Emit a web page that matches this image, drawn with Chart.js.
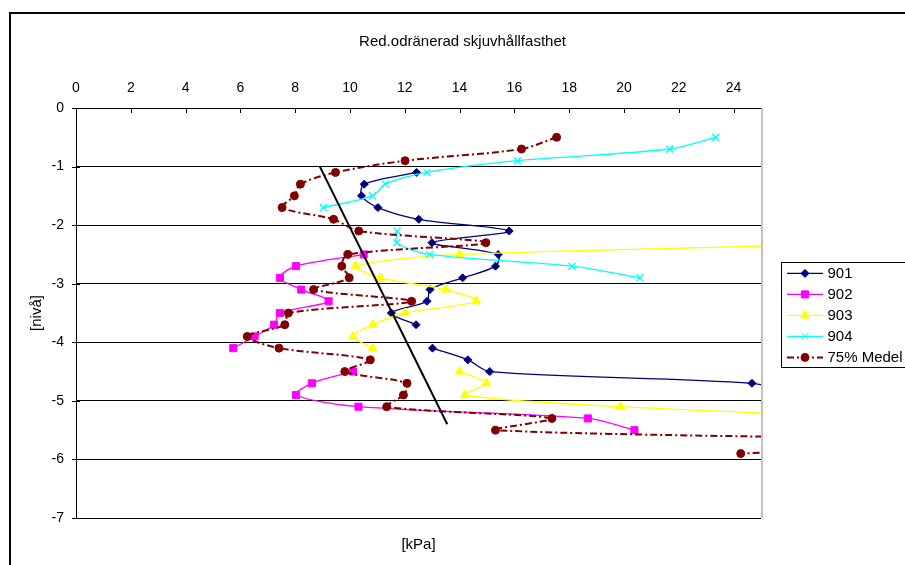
<!DOCTYPE html>
<html>
<head>
<meta charset="utf-8">
<script src="https://cdn.jsdelivr.net/npm/chart.js@4.4.1/dist/chart.umd.min.js"></script>
<style>
  html, body { margin: 0; padding: 0; background: #fff; }
</style>
</head>
<body>
<canvas id="myChart" width="905" height="565"></canvas>
<script>
// nivåer (y) - samma för alla serier, null = saknas
const nivaer = [-0.5, -0.7, -0.9, -1.1, -1.3, -1.5, -1.7, -1.9, -2.1, -2.3, -2.5, -2.7, -2.9, -3.1,
  -3.3, -3.5, -3.7, -3.9, -4.1, -4.3, -4.5, -4.7, -4.9, -5.1, -5.3, -5.5, -5.7, -5.9];

const s901 = [null, null, null, 12.43, 10.52, 10.42, 11.02, 12.51, 15.81, 12.99, 15.41, 15.31, 14.11, 12.92,
  12.81, 11.51, 12.41, null, 13.01, 14.3, 15.1, 24.67, 26.5, null, null, null, null, null];
const s902 = [null, null, null, null, null, null, null, null, null, null, 10.5, 8.03, 7.44, 8.22,
  9.22, 7.44, 7.23, 6.52, 5.74, null, 10.11, 8.61, 8.03, 10.31, 18.68, 20.38, null, null];
const s903 = [null, null, null, null, null, null, null, null, null, 31, 14.0, 10.2, 11.11, 13.5,
  14.61, 12.01, 10.83, 10.11, 10.83, null, 14.0, 14.98, 14.19, 19.87, 30, null, null, null];
const s904 = [23.35, 21.67, 16.11, 12.81, 11.29, 10.82, 9.03, null, 11.72, 11.71, 12.91, 18.1, 20.58, null,
  null, null, null, null, null, null, null, null, null, null, null, null, null, null];
const medel = [17.54, 16.26, 12.01, 9.47, 8.19, 7.97, 7.52, 9.4, 10.32, 14.96, 9.92, 9.7, 9.97, 8.67,
  12.25, 7.75, 7.62, 6.25, 7.41, 10.74, 9.81, 12.08, 11.95, 11.34, 17.37, 15.31, 33, 24.26];

// handritad linje
const trendX = [8.9, 13.55];
const trendY = [-1.0, -5.4];

const xTicks = [0, 2, 4, 6, 8, 10, 12, 14, 16, 18, 20, 22, 24];
const yTicks = [0, -1, -2, -3, -4, -5, -6, -7];

function punkter(serie) {
  return nivaer.map((y, i) => ({ x: serie[i], y: serie[i] == null ? null : y }));
}

Chart.defaults.font.family = "'Liberation Sans', Arial, sans-serif";
Chart.defaults.font.size = 14;
Chart.defaults.color = "#000";

const extras = {
  id: "extras",
  beforeDraw(chart) {
    const ctx = chart.ctx;
    ctx.save();
    ctx.fillStyle = "#fff";
    ctx.fillRect(0, 0, chart.width, chart.height);
    ctx.strokeStyle = "#000";
    ctx.lineWidth = 2;
    ctx.beginPath();
    ctx.moveTo(10, chart.height);
    ctx.lineTo(10, 13);
    ctx.lineTo(chart.width, 13);
    ctx.stroke();
    ctx.restore();
  },
  afterDraw(chart) {
    const ctx = chart.ctx;
    const a = chart.chartArea;
    const xs = chart.scales.x;
    const ys = chart.scales.y;
    ctx.save();
    // högra kanten
    ctx.strokeStyle = "#c0c0c0";
    ctx.lineWidth = 2;
    ctx.beginPath();
    ctx.moveTo(a.right + 1, a.top);
    ctx.lineTo(a.right + 1, a.bottom);
    ctx.stroke();
    // tickmarks
    ctx.strokeStyle = "#000";
    ctx.lineWidth = 1;
    ctx.beginPath();
    xs.ticks.forEach((t) => {
      const px = Math.round(xs.getPixelForValue(t.value)) + 0.5;
      ctx.moveTo(px, a.top);
      ctx.lineTo(px, a.top + 5);
    });
    ys.ticks.forEach((t) => {
      const py = Math.round(ys.getPixelForValue(t.value)) + 0.5;
      ctx.moveTo(a.left - 4, py);
      ctx.lineTo(a.left + 4, py);
    });
    ctx.stroke();

    // legend: ram + linjeprov
    const lg = chart.legend;
    const hb = lg.legendHitBoxes;
    if (hb && hb.length) {
      const c0 = hb[0].top + hb[0].height / 2;
      const last = hb[hb.length - 1];
      const cN = last.top + last.height / 2;
      ctx.strokeStyle = "#000";
      ctx.lineWidth = 1;
      ctx.strokeRect(Math.round(hb[0].left + 14) + 0.5, Math.round(c0 - 11.5) + 0.5, 300, Math.round(cN - c0 + 21));
      hb.forEach((box, i) => {
        const item = lg.legendItems[i];
        const ds = chart.data.datasets[item.datasetIndex];
        const cy = box.top + box.height / 2;
        const x1 = box.left + 20;
        const x2 = box.left + 56;
        ctx.save();
        ctx.strokeStyle = ds.borderColor;
        ctx.lineWidth = ds.borderWidth;
        ctx.setLineDash(ds.borderDash || []);
        ctx.beginPath();
        ctx.moveTo(x1, cy);
        ctx.lineTo(x2, cy);
        ctx.stroke();
        ctx.restore();
        ctx.save();
        ctx.fillStyle = ds.pointBackgroundColor;
        ctx.strokeStyle = ds.pointBorderColor;
        Chart.helpers.drawPoint(ctx, {
          pointStyle: ds.pointStyle,
          radius: ds.pointRadius,
          rotation: 0,
          borderWidth: ds.pointBorderWidth,
        }, (x1 + x2) / 2, cy);
        ctx.restore();
      });
    }
    ctx.restore();
  },
};

const ctx = document.getElementById("myChart");

new Chart(ctx, {
  type: "scatter",
  data: {
    datasets: [
      {
        label: "901",
        data: punkter(s901),
        showLine: true,
        borderColor: "#000080",
        borderWidth: 1.3,
        pointStyle: "rectRot",
        pointRadius: 4,
        pointBackgroundColor: "#000080",
        pointBorderColor: "#000080",
        pointBorderWidth: 1,
        order: 5,
      },
      {
        label: "902",
        data: punkter(s902),
        showLine: true,
        borderColor: "#ff00ff",
        borderWidth: 1.3,
        pointStyle: "rect",
        pointRadius: 5,
        pointBackgroundColor: "#ff00ff",
        pointBorderColor: "#ff00ff",
        pointBorderWidth: 1,
        order: 4,
      },
      {
        label: "903",
        data: punkter(s903),
        showLine: true,
        borderColor: "#ffff00",
        borderWidth: 1.3,
        pointStyle: "triangle",
        pointRadius: 5,
        pointBackgroundColor: "#ffff00",
        pointBorderColor: "#ffff00",
        pointBorderWidth: 1,
        order: 3,
      },
      {
        label: "904",
        data: punkter(s904),
        showLine: true,
        borderColor: "#00ffff",
        borderWidth: 1.3,
        pointStyle: "crossRot",
        pointRadius: 5,
        pointBackgroundColor: "#00ffff",
        pointBorderColor: "#00ffff",
        pointBorderWidth: 1.3,
        order: 2,
      },
      {
        label: "75% Medel",
        data: punkter(medel),
        showLine: true,
        borderColor: "#800000",
        borderWidth: 2,
        borderDash: [7, 3, 2, 3],
        pointStyle: "circle",
        pointRadius: 4,
        pointBackgroundColor: "#800000",
        pointBorderColor: "#800000",
        pointBorderWidth: 1,
        order: 1,
      },
      {
        label: "linje",
        data: trendX.map((x, i) => ({ x: x, y: trendY[i] })),
        showLine: true,
        borderColor: "#000",
        borderWidth: 2,
        pointRadius: 0,
        tension: 0,
        order: 0,
      },
    ],
  },
  options: {
    responsive: false,
    animation: false,
    events: [],
    layout: { padding: { left: 20, right: 0, top: 15, bottom: 8 } },
    elements: {
      line: { tension: 0.3, capBezierPoints: false },
    },
    spanGaps: false,
    plugins: {
      tooltip: { enabled: false },
      title: {
        display: true,
        text: "Red.odränerad skjuvhållfasthet",
        font: { size: 15, weight: "normal" },
        padding: { top: 18, bottom: 10 },
      },
      legend: {
        position: "right",
        fullSize: false,
        maxWidth: 144,
        title: { display: true, text: " ", font: { size: 4 }, padding: 0 },
        labels: {
          font: { size: 15 },
          boxWidth: 53,
          boxHeight: 15,
          padding: 6,
          filter: (item) => item.datasetIndex < 5,
          sort: (a, b) => a.datasetIndex - b.datasetIndex,
          generateLabels: (chart) =>
            Chart.defaults.plugins.legend.labels.generateLabels(chart).map((l) => ({
              ...l,
              fillStyle: "rgba(0,0,0,0)",
              strokeStyle: "rgba(0,0,0,0)",
              lineWidth: 0,
              lineDash: [],
            })),
        },
      },
    },
    scales: {
      x: {
        type: "linear",
        position: "top",
        min: 0,
        max: 25,
        afterFit: (s) => { s.height = 47; },
        afterBuildTicks: (s) => { s.ticks = xTicks.map((v) => ({ value: v })); },
        ticks: { stepSize: 2, includeBounds: false, padding: 11, maxRotation: 0 },
        grid: { display: false, drawTicks: false },
        border: { color: "#000", width: 1 },
      },
      x2: {
        type: "linear",
        position: "bottom",
        min: 0,
        max: 25,
        ticks: { display: false },
        grid: { display: false, drawTicks: false },
        border: { display: false },
        title: { display: true, text: "[kPa]", font: { size: 15 }, padding: { top: 18, bottom: 3 } },
      },
      y: {
        type: "linear",
        min: -7,
        max: 0,
        afterFit: (s) => { s.width = 56; },
        afterBuildTicks: (s) => { s.ticks = yTicks.map((v) => ({ value: v })); },
        ticks: { stepSize: 1, padding: 12 },
        grid: { color: "#000", lineWidth: 1, drawTicks: false },
        border: { color: "#000", width: 1 },
        title: { display: true, text: "[nivå]", font: { size: 15 }, padding: { top: 8, bottom: 0 } },
      },
    },
  },
  plugins: [extras],
});
</script>
</body>
</html>
